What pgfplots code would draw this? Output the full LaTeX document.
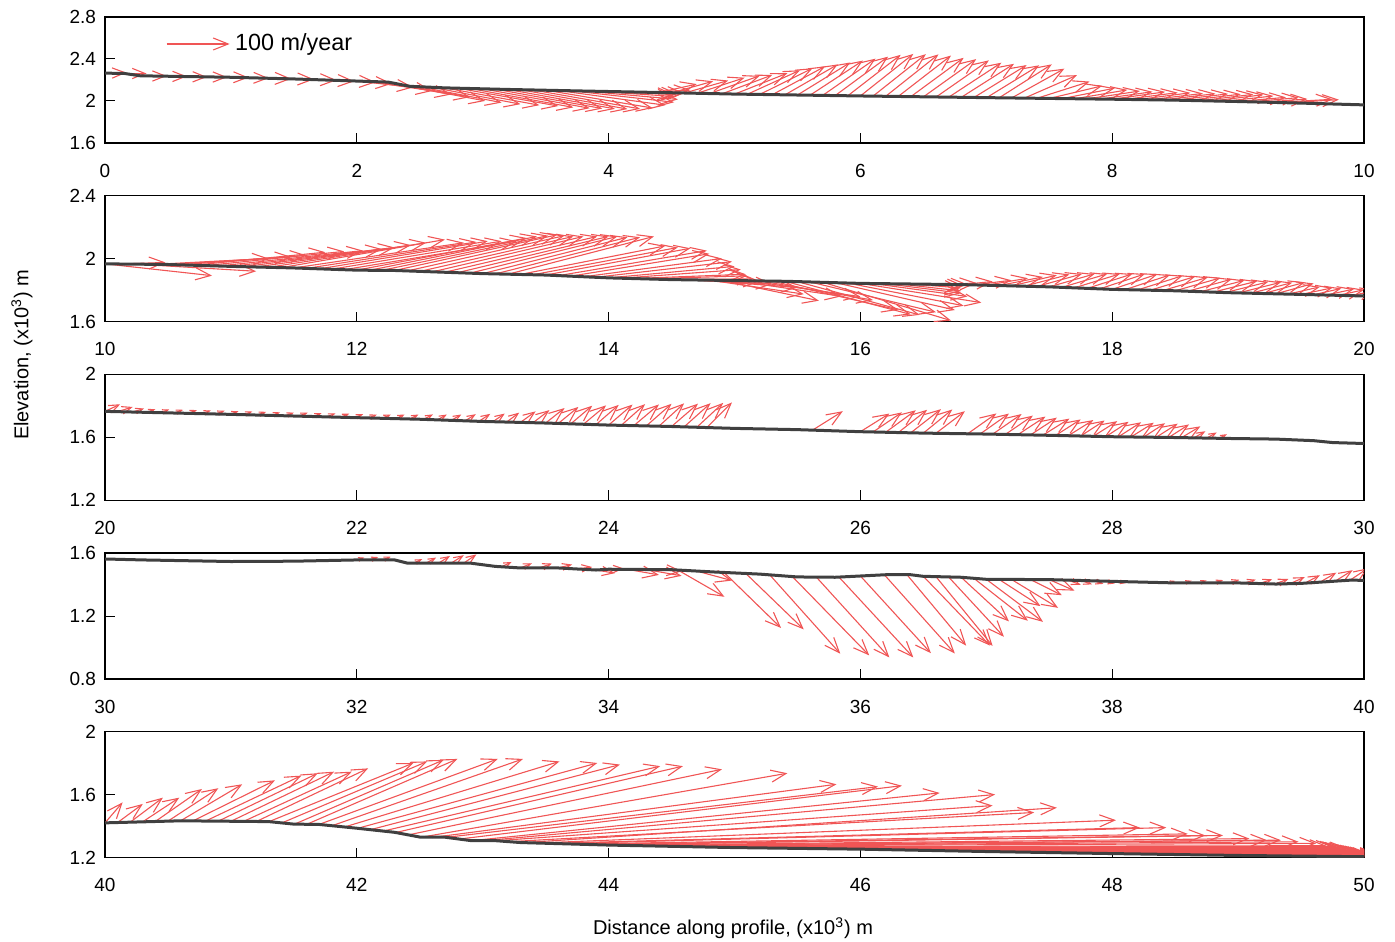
\documentclass[border=0pt]{standalone}
\usepackage{fontspec}
\setmainfont{Liberation Sans}
\usepackage{pgfplots}
\pgfplotsset{compat=1.18}
\usetikzlibrary{arrows.meta}
\definecolor{arr}{RGB}{240,85,85}
\definecolor{prof}{RGB}{64,64,64}
\pgfplotsset{
 panel/.style={scale only axis, width=629.5pt, height=63pt, anchor=south west,
  tick align=inside, xtick pos=left, ytick pos=left, major tick length=5pt,
  axis line style={line width=0.6pt, black}, every tick/.style={black, line width=0.5pt},
  tick label style={font=\fontsize{9.5}{11}\selectfont},
  /pgf/number format/assume math mode=true,
  xticklabel style={yshift=-7pt}, yticklabel style={xshift=-1pt},
  point meta min=0, point meta max=1000,
  clip=true},
 quiv/.style={draw=arr, line width=0.55pt,
   point meta={sqrt((62.95*\thisrow{u})^2+(#1*\thisrow{v})^2)},
   quiver={u=\thisrow{u},v=\thisrow{v},
     every arrow/.append style={/utils/exec={\pgfmathsetmacro\hl{min(7.5,0.6*\pgfplotspointmetatransformed)}\pgfmathsetmacro\hw{0.8*\hl}},
       -{Straight Barb[length=\hl pt,width=\hw pt]}}}},
 prof/.style={draw=prof, line width=1.5pt, line join=round}
}
\begin{document}
\begin{tikzpicture}
\path[use as bounding box] (0pt,0pt) rectangle (697.5pt,-470.5pt);
% ---------------- Panel 1
\begin{axis}[panel, at={(52.5pt,-71.5pt)}, xmin=0, xmax=10, ymin=1.6, ymax=2.8,
  xtick={0,2,4,6,8,10}, ytick={1.6,2,2.4,2.8}]
\addplot[quiv=52.5] table {
x y u v
0.00 2.265 0.17 0.005
0.16 2.262 0.17 0.000
0.32 2.238 0.17 0.000
0.48 2.234 0.17 0.000
0.64 2.231 0.17 -0.002
0.80 2.229 0.17 -0.002
0.96 2.227 0.18 -0.003
1.12 2.222 0.18 -0.004
1.28 2.217 0.20 -0.005
1.44 2.212 0.22 -0.006
1.56 2.208 0.28 -0.010
1.68 2.203 0.30 -0.015
1.80 2.199 0.35 -0.020
1.90 2.195 0.38 -0.030
2.00 2.190 0.45 -0.060
2.10 2.186 0.50 -0.090
2.20 2.182 0.55 -0.120
2.30 2.167 0.60 -0.130
2.40 2.141 0.62 -0.140
2.50 2.135 0.65 -0.150
2.60 2.130 0.70 -0.160
2.70 2.125 0.75 -0.165
2.80 2.122 0.80 -0.170
2.90 2.119 0.82 -0.180
3.00 2.116 0.85 -0.185
3.10 2.113 0.85 -0.185
3.20 2.110 0.85 -0.185
3.30 2.108 0.85 -0.185
3.40 2.105 0.85 -0.180
3.50 2.103 0.85 -0.170
3.60 2.100 0.85 -0.140
3.70 2.098 0.82 -0.110
3.80 2.095 0.75 -0.080
3.90 2.093 0.62 -0.050
4.00 2.091 0.52 -0.030
4.10 2.088 0.45 -0.020
4.20 2.086 0.40 -0.010
4.30 2.084 0.35 0.020
4.40 2.081 0.30 0.080
4.50 2.078 0.33 0.110
4.60 2.075 0.35 0.120
4.70 2.072 0.38 0.150
4.80 2.070 0.40 0.170
4.90 2.068 0.40 0.180
5.00 2.065 0.42 0.200
5.10 2.063 0.42 0.230
5.20 2.062 0.42 0.250
5.30 2.060 0.42 0.270
5.40 2.058 0.42 0.290
5.50 2.057 0.42 0.310
5.60 2.055 0.42 0.330
5.70 2.053 0.42 0.350
5.80 2.052 0.42 0.370
5.90 2.050 0.42 0.390
6.00 2.048 0.42 0.400
6.10 2.046 0.42 0.400
6.20 2.044 0.42 0.400
6.30 2.043 0.42 0.390
6.40 2.041 0.42 0.370
6.50 2.039 0.42 0.360
6.60 2.037 0.42 0.350
6.70 2.035 0.42 0.330
6.80 2.034 0.42 0.320
6.90 2.032 0.42 0.310
7.00 2.030 0.42 0.310
7.10 2.029 0.42 0.320
7.20 2.028 0.42 0.280
7.30 2.026 0.42 0.220
7.40 2.025 0.42 0.160
7.50 2.024 0.42 0.120
7.60 2.022 0.42 0.100
7.70 2.021 0.42 0.085
7.80 2.020 0.42 0.075
7.90 2.018 0.42 0.070
8.00 2.017 0.42 0.070
8.10 2.015 0.42 0.065
8.20 2.013 0.42 0.065
8.30 2.012 0.42 0.060
8.40 2.010 0.42 0.060
8.50 2.008 0.42 0.060
8.60 2.005 0.42 0.060
8.70 2.003 0.42 0.060
8.80 2.000 0.40 0.060
8.90 1.998 0.38 0.050
9.00 1.995 0.38 0.040
9.10 1.992 0.38 0.040
9.20 1.989 0.35 0.030
9.30 1.986 0.45 0.030
9.40 1.983 0.40 0.030
};
\addplot[prof] coordinates {(0,2.265) (0.15,2.263) (0.28,2.24) (1,2.226) (1.5,2.21) (2,2.19) (2.25,2.18) (2.42,2.14) (2.7,2.125) (3.2,2.11) (3.8,2.095) (4.45,2.08) (5,2.066) (6,2.048) (7,2.032) (8,2.017) (8.5,2.008) (9,1.995) (9.5,1.98) (10,1.963)};
\addplot[quiv=52.5] table {
x y u v
0.49 2.543 0.50 0
};
\node[anchor=west, font=\fontsize{11.7}{13}\selectfont, inner sep=0pt] at (axis cs:1.03,2.543) {100 m/year};
\end{axis}
% ---------------- Panel 2
\begin{axis}[panel, at={(52.5pt,-160.75pt)}, xmin=10, xmax=20, ymin=1.6, ymax=2.4,
  xtick={10,12,14,16,18,20}, ytick={1.6,2,2.4}]
\addplot[quiv=78.75] table {
x y u v
10.00 1.966 0.85 -0.075
10.12 1.965 0.36 0.010
10.25 1.964 0.95 -0.045
10.40 1.963 0.90 0.037
10.50 1.962 0.98 0.048
10.60 1.960 1.00 0.060
10.70 1.957 1.05 0.083
10.80 1.955 1.10 0.090
10.90 1.952 1.15 0.098
11.00 1.950 1.20 0.110
11.10 1.948 1.20 0.122
11.20 1.946 1.23 0.139
11.30 1.944 1.25 0.156
11.40 1.942 1.30 0.178
11.50 1.940 1.35 0.160
11.60 1.937 1.35 0.168
11.70 1.934 1.34 0.176
11.80 1.932 1.35 0.178
11.90 1.929 1.37 0.181
12.00 1.926 1.35 0.204
12.10 1.925 1.33 0.215
12.20 1.925 1.32 0.220
12.30 1.924 1.29 0.226
12.40 1.921 1.25 0.224
12.50 1.918 1.22 0.222
12.60 1.915 1.20 0.225
12.70 1.913 1.21 0.227
12.80 1.910 1.20 0.230
12.90 1.907 1.17 0.233
13.00 1.904 1.15 0.231
13.10 1.902 1.15 0.233
13.20 1.900 1.16 0.240
13.30 1.899 1.15 0.181
13.40 1.897 1.15 0.173
13.50 1.895 1.15 0.170
13.60 1.891 1.18 0.159
13.70 1.888 1.10 0.142
13.80 1.884 1.10 0.116
13.90 1.881 1.08 0.099
14.00 1.877 1.00 0.073
14.10 1.875 0.95 0.055
14.20 1.873 0.89 0.027
14.30 1.871 0.80 0.019
14.40 1.868 0.75 0.002
14.50 1.866 0.70 -0.010
14.60 1.865 0.70 -0.027
14.70 1.864 0.80 -0.048
14.80 1.863 0.75 -0.089
14.90 1.861 0.77 -0.129
15.00 1.860 0.85 -0.100
15.10 1.859 0.90 -0.101
15.20 1.858 0.90 -0.122
15.30 1.856 1.00 -0.182
15.40 1.855 1.00 -0.210
15.50 1.853 0.97 -0.211
15.60 1.851 1.00 -0.192
15.70 1.849 1.02 -0.243
15.80 1.847 0.95 -0.174
15.90 1.844 0.92 -0.144
16.00 1.842 0.96 -0.122
16.10 1.841 0.75 -0.082
16.20 1.840 0.60 -0.060
16.30 1.839 0.50 -0.045
16.40 1.838 0.40 -0.025
16.50 1.837 0.32 -0.010
16.60 1.836 0.25 0.000
16.70 1.835 0.22 0.010
16.80 1.834 0.25 0.020
16.90 1.832 0.30 0.030
17.00 1.830 0.33 0.045
17.10 1.828 0.35 0.055
17.20 1.826 0.36 0.068
17.30 1.824 0.36 0.075
17.40 1.822 0.36 0.080
17.50 1.820 0.36 0.082
17.60 1.817 0.36 0.085
17.70 1.814 0.36 0.088
17.80 1.810 0.36 0.092
17.90 1.807 0.36 0.095
18.00 1.804 0.36 0.097
18.10 1.802 0.36 0.094
18.20 1.800 0.36 0.091
18.30 1.798 0.36 0.088
18.40 1.796 0.36 0.085
18.50 1.795 0.36 0.082
18.60 1.792 0.35 0.077
18.70 1.789 0.35 0.072
18.80 1.786 0.35 0.070
18.90 1.784 0.34 0.068
19.00 1.781 0.34 0.068
19.10 1.779 0.33 0.068
19.20 1.777 0.33 0.072
19.30 1.776 0.30 0.066
19.40 1.774 0.25 0.046
19.50 1.772 0.25 0.042
19.60 1.770 0.22 0.040
19.70 1.768 0.22 0.038
19.80 1.766 0.20 0.036
19.90 1.764 0.20 0.034
};
\addplot[prof] coordinates {(10,1.966) (10.5,1.962) (11,1.95) (11.5,1.94) (12,1.926) (12.3,1.924) (13,1.904) (13.5,1.895) (14,1.877) (14.5,1.866) (15,1.86) (15.42,1.855) (16,1.842) (16.82,1.834) (17.5,1.82) (18,1.804) (18.5,1.795) (18.92,1.783) (19.5,1.772) (20,1.762)};
\end{axis}
% ---------------- Panel 3
\begin{axis}[panel, at={(52.5pt,-250.1pt)}, xmin=20, xmax=30, ymin=1.2, ymax=2,
  xtick={20,22,24,26,28,30}, ytick={1.2,1.6,2}]
\addplot[quiv=78.75] table {
x y u v
20.00 1.764 0.12 0.045
20.10 1.762 0.12 0.030
20.22 1.760 0.09 0.022
20.33 1.758 0.07 0.020
20.44 1.756 0.07 0.020
20.55 1.754 0.07 0.020
20.66 1.752 0.07 0.020
20.77 1.750 0.07 0.020
20.88 1.748 0.07 0.020
20.99 1.745 0.07 0.020
21.10 1.743 0.07 0.020
21.21 1.741 0.07 0.020
21.32 1.738 0.07 0.020
21.43 1.736 0.07 0.020
21.54 1.734 0.07 0.022
21.65 1.731 0.07 0.022
21.76 1.729 0.07 0.022
21.87 1.727 0.07 0.022
21.98 1.724 0.07 0.022
22.09 1.722 0.07 0.022
22.20 1.720 0.07 0.024
22.31 1.718 0.07 0.026
22.42 1.716 0.07 0.028
22.53 1.713 0.075 0.032
22.64 1.710 0.075 0.034
22.75 1.707 0.08 0.037
22.86 1.704 0.085 0.042
22.97 1.701 0.09 0.047
23.08 1.698 0.095 0.052
23.19 1.696 0.10 0.060
23.30 1.694 0.12 0.070
23.40 1.692 0.13 0.080
23.50 1.690 0.15 0.095
23.60 1.687 0.16 0.105
23.70 1.685 0.17 0.115
23.80 1.682 0.18 0.120
23.90 1.680 0.18 0.125
24.00 1.677 0.19 0.130
24.10 1.675 0.19 0.135
24.20 1.673 0.20 0.135
24.30 1.672 0.20 0.140
24.40 1.670 0.20 0.145
24.50 1.668 0.21 0.145
24.60 1.666 0.21 0.150
24.70 1.663 0.21 0.155
24.78 1.661 0.20 0.160
25.62 1.645 0.24 0.120
26.00 1.635 0.23 0.115
26.10 1.633 0.23 0.125
26.20 1.631 0.24 0.140
26.30 1.629 0.23 0.145
26.40 1.628 0.24 0.150
26.50 1.626 0.23 0.150
26.60 1.625 0.23 0.140
26.85 1.621 0.23 0.130
26.95 1.620 0.23 0.130
27.05 1.619 0.23 0.128
27.15 1.617 0.22 0.120
27.25 1.616 0.22 0.115
27.35 1.614 0.21 0.110
27.45 1.613 0.21 0.105
27.55 1.611 0.20 0.102
27.65 1.609 0.20 0.100
27.75 1.608 0.19 0.098
27.85 1.606 0.19 0.096
27.95 1.604 0.18 0.094
28.05 1.603 0.18 0.092
28.15 1.602 0.18 0.090
28.25 1.601 0.17 0.088
28.35 1.600 0.17 0.086
28.45 1.599 0.16 0.082
28.55 1.597 0.15 0.072
28.65 1.596 0.09 0.042
28.75 1.594 0.08 0.036
28.85 1.593 0.06 0.026
};
\addplot[prof] coordinates {(20,1.764) (21,1.745) (22,1.724) (22.5,1.714) (23,1.70) (23.5,1.69) (24,1.677) (24.5,1.668) (25,1.656) (25.5,1.648) (26,1.635) (26.5,1.626) (27,1.62) (27.5,1.612) (28,1.603) (28.5,1.598) (28.92,1.592) (29.3,1.588) (29.6,1.578) (29.75,1.566) (30,1.56)};
\end{axis}
% ---------------- Panel 4
\begin{axis}[panel, at={(52.5pt,-339.5pt)}, xmin=30, xmax=40, ymin=0.8, ymax=1.6,
  xtick={30,32,34,36,38,40}, ytick={0.8,1.2,1.6}]
\addplot[quiv=78.75] table {
x y u v
32.00 1.556 0.06 0.015
32.10 1.556 0.07 0.018
32.20 1.556 0.07 0.020
32.45 1.536 0.07 0.025
32.55 1.536 0.08 0.035
32.65 1.536 0.09 0.045
32.75 1.536 0.10 0.050
32.85 1.536 0.10 0.055
33.15 1.513 0.08 0.030
33.30 1.505 0.09 0.030
33.45 1.505 0.10 0.028
33.60 1.505 0.11 0.022
33.75 1.499 0.12 0.012
33.90 1.492 0.15 -0.020
34.00 1.497 0.12 0.005
34.15 1.496 0.25 -0.035
34.30 1.495 0.28 -0.040
34.40 1.494 0.18 -0.010
34.55 1.492 0.37 -0.170
34.70 1.485 0.28 -0.060
34.92 1.474 0.45 -0.350
35.09 1.470 0.46 -0.355
35.28 1.461 0.56 -0.500
35.46 1.450 0.61 -0.500
35.65 1.447 0.58 -0.510
35.83 1.447 0.59 -0.510
36.00 1.454 0.56 -0.490
36.19 1.462 0.56 -0.500
36.37 1.462 0.47 -0.450
36.50 1.452 0.53 -0.440
36.60 1.450 0.45 -0.440
36.70 1.448 0.44 -0.380
36.80 1.446 0.38 -0.280
36.90 1.440 0.43 -0.270
37.00 1.433 0.45 -0.270
37.10 1.433 0.33 -0.170
37.20 1.432 0.37 -0.180
37.35 1.432 0.25 -0.100
37.50 1.431 0.20 -0.070
37.65 1.428 0.10 -0.030
37.75 1.426 0.09 -0.025
37.85 1.424 0.08 -0.020
37.95 1.421 0.07 -0.015
38.05 1.419 0.06 -0.010
38.45 1.411 0.05 0.012
38.57 1.410 0.06 0.014
38.69 1.410 0.06 0.016
38.81 1.410 0.07 0.018
38.93 1.410 0.08 0.020
39.05 1.409 0.09 0.022
39.17 1.406 0.10 0.027
39.29 1.403 0.11 0.032
39.41 1.405 0.12 0.042
39.53 1.409 0.12 0.050
39.65 1.415 0.13 0.060
39.77 1.421 0.14 0.070
39.89 1.428 0.14 0.075
};
\addplot[prof] coordinates {(30,1.562) (30.3,1.556) (31,1.546) (31.5,1.548) (32,1.556) (32.3,1.556) (32.4,1.536) (32.9,1.536) (33.1,1.515) (33.3,1.505) (33.6,1.505) (33.9,1.492) (34.0,1.497) (34.5,1.494) (34.85,1.479) (35.2,1.466) (35.5,1.448) (35.8,1.446) (36.2,1.462) (36.4,1.462) (36.5,1.452) (36.8,1.446) (37.0,1.433) (37.5,1.431) (38,1.42) (38.5,1.41) (39,1.41) (39.3,1.403) (39.5,1.407) (39.9,1.428) (40,1.426)};
\end{axis}
% ---------------- Panel 5
\begin{axis}[panel, at={(52.5pt,-428.75pt)}, xmin=40, xmax=50, ymin=1.2, ymax=2,
  xtick={40,42,44,46,48,50}, ytick={1.2,1.6,2}]
\addplot[quiv=78.75] table {
x y u v
40.0 1.420 0.14 0.130
40.1 1.422 0.20 0.118
40.2 1.424 0.26 0.156
40.3 1.427 0.29 0.153
40.4 1.429 0.37 0.206
40.5 1.431 0.40 0.209
40.6 1.433 0.49 0.232
40.7 1.433 0.65 0.257
40.8 1.432 0.76 0.288
40.9 1.431 0.79 0.304
41.0 1.430 0.82 0.315
41.1 1.429 0.86 0.316
41.2 1.428 0.89 0.338
41.3 1.427 1.15 0.373
41.4 1.418 1.16 0.392
41.5 1.410 1.19 0.410
41.6 1.410 1.20 0.416
41.7 1.410 1.42 0.416
41.8 1.401 1.52 0.425
41.9 1.393 1.71 0.417
42.0 1.384 1.91 0.416
42.1 1.375 1.99 0.415
42.2 1.366 2.21 0.414
42.3 1.357 2.29 0.423
42.4 1.342 2.50 0.418
42.5 1.327 2.92 0.408
42.6 1.327 3.21 0.338
42.7 1.327 3.44 0.323
42.8 1.316 3.53 0.340
42.9 1.306 3.73 0.304
43.0 1.306 4.07 0.294
43.1 1.306 3.95 0.224
43.2 1.300 4.18 0.186
43.3 1.293 4.26 0.223
43.4 1.291 4.63 0.146
43.5 1.289 4.72 0.101
43.6 1.287 4.83 0.103
43.7 1.285 4.90 0.065
43.8 1.283 4.94 0.057
43.9 1.280 4.98 0.060
44.0 1.278 5.09 0.042
44.1 1.276 5.13 0.034
44.2 1.275 5.14 0.035
44.3 1.273 5.18 0.027
44.4 1.272 5.22 0.018
44.5 1.270 5.36 -0.010
44.7 1.268 5.00 0.007
44.9 1.265 4.85 0.005
45.1 1.262 4.68 0.003
45.3 1.260 4.50 0.002
45.5 1.258 4.32 0.000
45.7 1.256 4.15 -0.001
45.9 1.254 3.97 -0.004
46.1 1.252 3.80 -0.006
46.3 1.249 3.62 -0.006
46.5 1.246 3.44 -0.006
46.7 1.243 3.26 -0.006
46.9 1.240 3.08 -0.006
47.1 1.237 2.90 -0.006
47.3 1.234 2.72 -0.006
47.5 1.231 2.54 -0.006
47.7 1.229 2.40 -0.005
47.9 1.226 2.20 -0.004
48.1 1.224 2.00 -0.004
48.3 1.221 1.80 -0.003
48.5 1.219 1.60 -0.003
48.7 1.217 1.40 -0.002
48.9 1.214 1.20 -0.002
49.1 1.212 1.00 -0.001
49.3 1.210 0.80 0.000
49.5 1.208 0.60 0.000
49.7 1.206 0.40 0.000
49.9 1.205 0.20 0.000
};
\addplot[prof] coordinates {(40,1.42) (40.6,1.433) (41.3,1.428) (41.5,1.412) (41.7,1.41) (42,1.386) (42.3,1.36) (42.5,1.33) (42.7,1.329) (42.9,1.308) (43.1,1.307) (43.3,1.295) (44,1.279) (44.5,1.271) (45,1.263) (46,1.253) (47,1.238) (48,1.225) (49,1.213) (50,1.205)};
\end{axis}
\node[rotate=90, font=\fontsize{10}{12}\selectfont] at (11pt,-177.5pt) {Elevation, (x10\textsuperscript{3}) m};
\node[font=\fontsize{10}{12}\selectfont] at (366.5pt,-464pt) {Distance along profile, (x10\textsuperscript{3}) m};
\end{tikzpicture}
\end{document}
